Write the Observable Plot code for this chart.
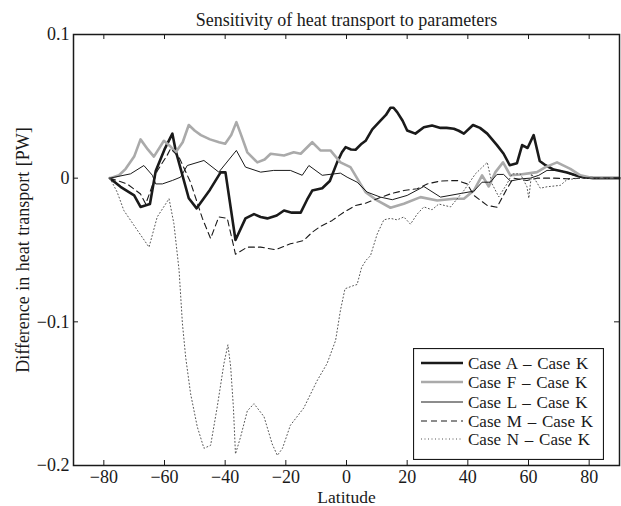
<!DOCTYPE html>
<html><head><meta charset="utf-8">
<script src="https://cdn.jsdelivr.net/npm/d3@7"></script>
<script src="https://cdn.jsdelivr.net/npm/@observablehq/plot@0.6"></script>
<style>
body{margin:0;background:#fff}
#wrap{position:relative;width:621px;height:506px}
#legend{position:absolute;left:413px;top:348px}
#legend text{word-spacing:1.5px}
.ylab text{word-spacing:1px}
</style>
</head><body>
<div id="wrap"></div>
<script>
const titleText = "Sensitivity of heat transport to parameters";
const xLabel = "Latitude";
const yLabel = "Difference in heat transport [PW]";
const xTicks = [-80, -60, -40, -20, 0, 20, 40, 60, 80];
const yTicks = [-0.2, -0.1, 0, 0.1];
const xDomain = [-90, 90];
const yDomain = [-0.2, 0.1];
const seriesNames = ["Case A \u2013 Case K", "Case F \u2013 Case K", "Case L \u2013 Case K", "Case M \u2013 Case K", "Case N \u2013 Case K"];

const caseA = [[-78,0],[-74.5,-0.006],[-70,-0.012],[-67.9,-0.02],[-64.8,-0.018],[-62.9,0.005],[-60,0.02],[-57.4,0.031],[-56.3,0.019],[-52,-0.014],[-49.4,-0.021],[-45,-0.008],[-41.5,0.004],[-39.9,0.004],[-36.6,-0.043],[-33.3,-0.028],[-30.5,-0.025],[-28.3,-0.027],[-26.1,-0.028],[-23,-0.026],[-20.6,-0.0225],[-18,-0.024],[-15.1,-0.024],[-13,-0.015],[-11.3,-0.0086],[-8,-0.007],[-5.5,-0.002],[-3.1,0.011],[-1.5,0.018],[-0.3,0.0216],[1.5,0.02],[3,0.0198],[5,0.024],[6.3,0.026],[8.5,0.034],[11.2,0.04],[13,0.044],[14.5,0.049],[15.5,0.049],[16.7,0.046],[18.5,0.04],[20,0.0332],[22.7,0.031],[25.5,0.0355],[28.2,0.0367],[31,0.035],[33,0.035],[35.4,0.0344],[37,0.033],[38.7,0.031],[41.7,0.037],[44,0.035],[46.4,0.031],[49.6,0.023],[51.8,0.017],[53.8,0.009],[56.2,0.0104],[57.9,0.023],[59.7,0.021],[61.7,0.03],[63.7,0.012],[65.6,0.009],[68.3,0.006],[72.7,0.004],[77.1,0.001],[81.5,0],[90,0]];
const caseF = [[-78,0],[-75,0.002],[-72.8,0.0065],[-70,0.015],[-67.9,0.027],[-65.5,0.02],[-63.5,0.015],[-60.2,0.026],[-58,0.022],[-56.3,0.018],[-54,0.025],[-52,0.037],[-50,0.033],[-48,0.03],[-45,0.027],[-42,0.025],[-40,0.024],[-38,0.03],[-36.3,0.039],[-34.9,0.031],[-32.7,0.018],[-29.4,0.011],[-27,0.013],[-25,0.017],[-20.6,0.0158],[-17.4,0.018],[-15.1,0.017],[-11.3,0.025],[-8.6,0.0193],[-5.3,0.0193],[-2,0.011],[1.3,0.0077],[4.6,-0.004],[6.3,-0.0097],[10.1,-0.0155],[14.5,-0.0206],[18.9,-0.0178],[24.4,-0.0132],[29.9,-0.0155],[35.4,-0.0143],[38.7,-0.0143],[42,-0.0086],[44.7,0.002],[46.9,-0.0058],[49.1,0.0042],[51.6,0.011],[54,0.002],[57.3,0.0026],[60.6,0.0035],[62.8,0.0042],[65.6,0.0077],[69.4,0.011],[73.8,0.0065],[77.1,0.002],[81.5,0],[90,0]];
const caseL = [[-78,0],[-71.2,0.003],[-66.8,0.0088],[-64,0.002],[-62.9,-0.004],[-60.7,-0.004],[-57.4,-0.0016],[-54.7,0.0007],[-52.5,0.0088],[-47,0.0123],[-42.1,0.0042],[-36.3,0.0193],[-33.3,0.0077],[-28.3,0.0042],[-24,0.0054],[-18.5,0.0054],[-14.6,0.002],[-12.4,0.0088],[-8,0.002],[-2,0.0035],[0.2,0.0007],[3.5,-0.0028],[6.8,-0.0097],[11.2,-0.0132],[15.1,-0.015],[20,-0.012],[25.5,-0.0058],[31,-0.0132],[42,-0.009],[44.7,-0.0028],[47.4,-0.0028],[49.6,0.0026],[51.8,0.0026],[54,-0.002],[57.9,-0.0004],[60.6,0],[63.4,0.002],[66.1,0.0054],[70.5,0.0054],[74.9,0.002],[79.3,0],[90,0]];
const caseM = [[-78,0],[-72.3,-0.004],[-67.9,-0.011],[-66.2,-0.018],[-64.6,-0.0086],[-62.4,0.005],[-59.1,0.016],[-58,0.0205],[-55.2,0.0146],[-51.4,-0.003],[-47.5,-0.028],[-44.8,-0.042],[-42.1,-0.027],[-39.3,-0.028],[-36.6,-0.053],[-32.7,-0.048],[-28.3,-0.048],[-23.4,-0.0498],[-18.5,-0.0457],[-14.1,-0.0434],[-11.3,-0.0376],[-8.6,-0.0336],[-4.7,-0.0294],[-0.9,-0.0237],[3,-0.019],[6.3,-0.0174],[10.1,-0.0143],[14.5,-0.0109],[18.9,-0.0086],[23.3,-0.0074],[26.6,-0.004],[31,-0.002],[36.5,-0.0016],[39.8,-0.004],[42,-0.012],[46.4,-0.019],[49.6,-0.0202],[52.9,-0.0074],[55,0],[59.5,-0.0016],[62.8,0],[68.3,0],[72.7,-0.0004],[77,0],[90,0]];
const caseN = [[-78,0],[-75.6,-0.0097],[-73.4,-0.0225],[-68.9,-0.0364],[-65.1,-0.048],[-62.4,-0.027],[-58.5,-0.0143],[-56.9,-0.0317],[-55.2,-0.064],[-54.1,-0.101],[-53,-0.125],[-51.4,-0.15],[-49.2,-0.173],[-47,-0.188],[-44.8,-0.186],[-42.6,-0.159],[-40.4,-0.129],[-39.1,-0.116],[-38.2,-0.131],[-37.3,-0.159],[-36.6,-0.192],[-34.9,-0.18],[-32.7,-0.162],[-30.5,-0.157],[-27.2,-0.166],[-24.5,-0.185],[-22.8,-0.193],[-21.1,-0.188],[-18.5,-0.172],[-14.1,-0.16],[-9.7,-0.141],[-6.4,-0.129],[-3.6,-0.113],[-2,-0.092],[-0.5,-0.077],[2,-0.075],[3.5,-0.074],[5,-0.062],[6.5,-0.057],[7.9,-0.054],[10.1,-0.039],[12.3,-0.029],[14.5,-0.028],[16.7,-0.029],[18.9,-0.027],[21.1,-0.032],[23.3,-0.025],[25.5,-0.02],[28.2,-0.022],[30.4,-0.018],[34.3,-0.02],[38.7,-0.0086],[42.5,0.003],[46.4,0.011],[48,-0.004],[50.2,-0.013],[52.9,-0.004],[54.6,0.003],[57.3,0.003],[59.5,-0.006],[60.1,-0.014],[61,0.003],[63.9,-0.007],[66.1,-0.006],[70.5,-0.005],[72.7,-0.001],[77,0],[90,0]];

const styles = [
  {stroke: "#1a1a1a", strokeWidth: 2.6},
  {stroke: "#aaaaaa", strokeWidth: 2.6},
  {stroke: "#1a1a1a", strokeWidth: 1},
  {stroke: "#1a1a1a", strokeWidth: 1.1, strokeDasharray: "6 4"},
  {stroke: "#555555", strokeWidth: 1, strokeDasharray: "1 2.5"}
];
const allSeries = [caseA, caseF, caseL, caseM, caseN];

const font = "Liberation Serif, Times New Roman, serif";
const fmtX = d => (d < 0 ? "\u2212" : "") + Math.abs(d);
const fmtY = d => d === 0 ? "0" : (d < 0 ? "\u2212" : "") + Math.abs(d);

const W = 621, H = 506, mL = 73, mR = 2, mT = 34, mB = 41;
const fw = W - mL - mR, fh = H - mT - mB;

const chart = Plot.plot({
  width: W, height: H,
  marginLeft: mL, marginRight: mR, marginTop: mT, marginBottom: mB,
  style: {fontFamily: font, fontSize: "18px", color: "#1a1a1a", background: "white"},
  x: {domain: xDomain, label: null},
  y: {domain: yDomain, label: null},
  marks: [
    ...allSeries.map((s, i) => Plot.line(s, {x: d => d[0], y: d => d[1], ...styles[i], strokeLinejoin: "round"})),
    Plot.frame({stroke: "#1a1a1a", strokeWidth: 1.5}),
    Plot.tickX(xTicks, {x: d => d, insetTop: fh - 5, stroke: "#1a1a1a"}),
    Plot.tickX(xTicks, {x: d => d, insetBottom: fh - 5, stroke: "#1a1a1a"}),
    Plot.tickY(yTicks, {y: d => d, insetRight: fw - 5, stroke: "#1a1a1a"}),
    Plot.tickY(yTicks, {y: d => d, insetLeft: fw - 5, stroke: "#1a1a1a"}),
    Plot.axisX(xTicks, {tickSize: 0, tickPadding: 5, tickFormat: fmtX, label: null, fontSize: 18, fontFamily: font}),
    Plot.axisY(yTicks, {tickSize: 0, tickPadding: 4, tickFormat: fmtY, label: null, fontSize: 18, fontFamily: font}),
    Plot.text([titleText], {frameAnchor: "top", dy: -9, lineAnchor: "bottom", fontSize: 18, fontFamily: font, fill: "#1a1a1a"}),
    Plot.text([xLabel], {frameAnchor: "bottom", dy: 37, lineAnchor: "bottom", fontSize: 17.5, fontFamily: font, fill: "#1a1a1a"}),
    Plot.text([yLabel], {frameAnchor: "left", dx: -50, rotate: -90, textAnchor: "middle", fontSize: 18, fontFamily: font, fill: "#1a1a1a", className: "ylab"})
  ]
});
const wrap = document.getElementById("wrap");
wrap.appendChild(chart);

// legend overlay
const lg = d3.select(wrap).append("svg").attr("id", "legend")
  .attr("width", 191).attr("height", 112)
  .style("font-family", font).style("font-size", "17px");
lg.append("rect").attr("x", 0.5).attr("y", 0.5).attr("width", 190).attr("height", 111)
  .attr("fill", "white").attr("stroke", "#1a1a1a").attr("stroke-width", 1.2);
const rowY = [15, 34, 54, 73, 91];
seriesNames.forEach((name, i) => {
  const st = styles[i];
  lg.append("line").attr("x1", 8).attr("x2", 50).attr("y1", rowY[i]).attr("y2", rowY[i])
    .attr("stroke", st.stroke).attr("stroke-width", st.strokeWidth)
    .attr("stroke-dasharray", st.strokeDasharray || null);
  lg.append("text").attr("x", 55).attr("y", rowY[i]).attr("dy", "0.35em")
    .attr("fill", "#1a1a1a").text(name);
});
</script>
</body></html>
